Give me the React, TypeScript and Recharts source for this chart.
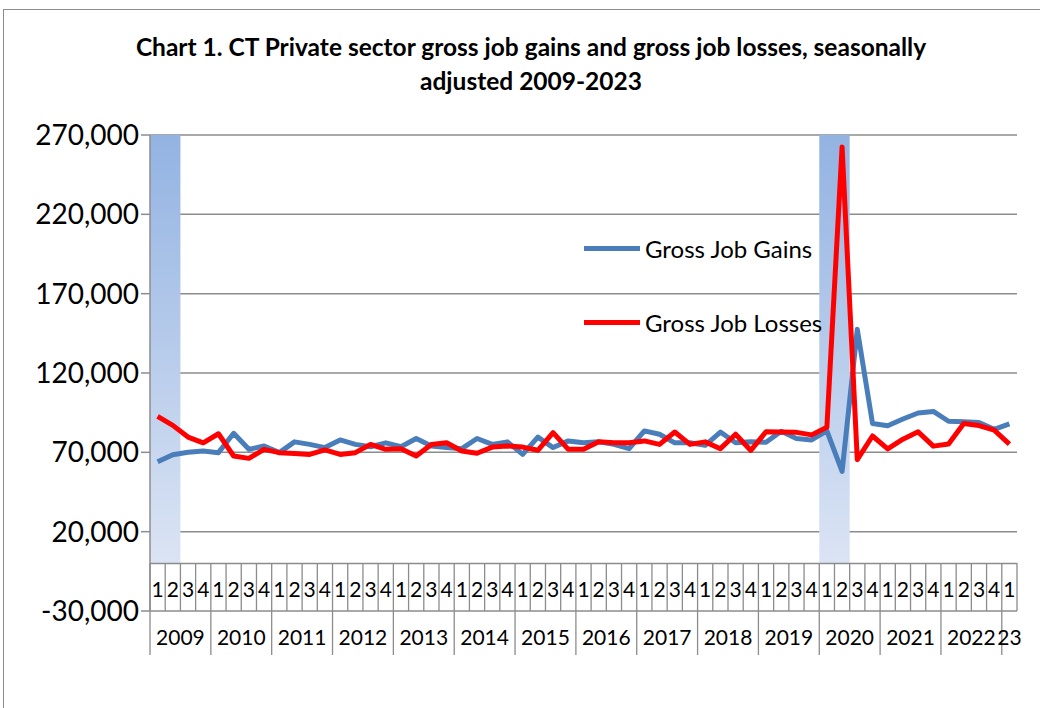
import React from "react";
import {
  CartesianGrid,
  Legend,
  Line,
  LineChart,
  ReferenceArea,
  ReferenceLine,
  XAxis,
  YAxis,
} from "recharts";

// quarters 2009Q1 .. 2023Q1
const years = [2009, 2010, 2011, 2012, 2013, 2014, 2015, 2016, 2017, 2018, 2019, 2020, 2021, 2022, 2023];
const quarterLabels = ["1", "2", "3", "4"];
const yearLabels = ["2009", "2010", "2011", "2012", "2013", "2014", "2015", "2016", "2017", "2018", "2019", "2020", "2021", "2022", "23"];
const periods = years.flatMap((yr) =>
  (yr === 2023 ? quarterLabels.slice(0, 1) : quarterLabels).map((q) => `${yr}Q${q}`)
);

const grossJobGains = [
  64000, 68500, 70000, 70800, 69800, 82000, 71900, 74000, 69800, 76600,
  75000, 73000, 77800, 75000, 73500, 76000, 73500, 78700, 74000, 73000,
  72300, 78700, 75000, 76600, 68700, 79600, 73000, 77200, 76000, 76600,
  75000, 72300, 83500, 81400, 76000, 76000, 74400, 82800, 76000, 76600,
  76300, 83300, 78700, 77800, 83500, 58000, 147500, 88200, 86800, 91000,
  94800, 95800, 89600, 89300, 88800, 84500, 87900,
];

const grossJobLosses = [
  92700, 87000, 79600, 76000, 81700, 67700, 66200, 71900, 69800, 69200,
  68700, 71500, 68700, 69800, 75000, 71900, 72300, 67700, 75000, 76000,
  70800, 69400, 73300, 74000, 73300, 71300, 82400, 71900, 71900, 76600,
  76000, 76000, 77200, 75000, 82800, 75000, 76600, 72300, 81400, 71200,
  83000, 82800, 82600, 81000, 85800, 262500, 65400, 80300, 72200, 78300,
  82900, 73900, 75300, 88200, 86900, 84000, 75200,
];

const yTicks = [-30000, 20000, 70000, 120000, 170000, 220000, 270000];
const recessions = [
  ["2009Q1", "2009Q2"],
  ["2020Q1", "2020Q2"],
];

const data = periods.map((period, i) => ({
  period,
  gains: grossJobGains[i],
  losses: grossJobLosses[i],
}));

const W = 1042;
const H = 708;
const PLOT_LEFT = 150;
const PLOT_RIGHT = 1017;
const PLOT_TOP = 135;
const PLOT_BOTTOM = 611;
const X_AXIS_H = 44;
const STEP = (PLOT_RIGHT - PLOT_LEFT) / periods.length;
const GRID = "#8c8c8c";
const FONT = "Lato, 'Open Sans', sans-serif";
const BLUE = "#4a7ebb";
const RED = "#ff0000";

function PeriodTick(props: any) {
  const { x, y, payload } = props;
  const key: string = payload.value;
  const [yr, q] = key.split("Q");
  const yearIdx = years.indexOf(Number(yr));
  const count = periods.filter((p) => p.startsWith(yr)).length;
  const isLast = key === periods[periods.length - 1];
  const rowTop = y - 48;
  return (
    <g>
      <line x1={x - STEP / 2} x2={x - STEP / 2} y1={rowTop} y2={y} stroke={GRID} strokeWidth={1.3} />
      {isLast && <line x1={x + STEP / 2} x2={x + STEP / 2} y1={rowTop} y2={y} stroke={GRID} strokeWidth={1.3} />}
      <text x={x} y={y - 23} textAnchor="middle" dominantBaseline="central" fontSize={21} fontFamily={FONT} fill="#000">
        {q}
      </text>
      {q === "1" && (
        <>
          <line x1={x - STEP / 2} x2={x - STEP / 2} y1={y} y2={y + X_AXIS_H} stroke={GRID} strokeWidth={1.3} />
          <text
            x={x - STEP / 2 + (count * STEP) / 2}
            y={y + 25}
            textAnchor="middle"
            dominantBaseline="central"
            fontSize={21}
            fontFamily={FONT}
            fill="#000"
          >
            {yearLabels[yearIdx]}
          </text>
        </>
      )}
    </g>
  );
}

function LegendBox() {
  const rows = [
    { label: "Gross Job Gains", color: BLUE },
    { label: "Gross Job Losses", color: RED },
  ];
  return (
    <div style={{ display: "flex", flexDirection: "column", gap: 44 }}>
      {rows.map((r) => (
        <div key={r.label} style={{ display: "flex", alignItems: "center", height: 30 }}>
          <div style={{ width: 56, height: 5, background: r.color, marginRight: 5 }} />
          <span style={{ fontFamily: FONT, fontSize: 24, color: "#000", whiteSpace: "nowrap" }}>{r.label}</span>
        </div>
      ))}
    </div>
  );
}

export default function App() {
  return (
    <div style={{ position: "absolute", left: 0, top: 0, width: W, height: H, background: "#fff", overflow: "hidden" }}>
      <div
        style={{
          position: "absolute",
          left: 3,
          top: 9,
          width: 1036,
          height: 720,
          borderTop: `1.5px solid ${GRID}`,
          borderLeft: `1.5px solid ${GRID}`,
        }}
      />
      <div
        style={{
          position: "absolute",
          left: 0,
          top: 30,
          width: 1062,
          textAlign: "center",
          fontFamily: FONT,
          fontWeight: 700,
          fontSize: 24.5,
          lineHeight: "34px",
          color: "#000",
        }}
      >
        Chart 1. CT Private sector gross job gains and gross job losses, seasonally
        <br />
        adjusted 2009-2023
      </div>
      <LineChart
        width={W}
        height={H}
        data={data}
        margin={{ top: PLOT_TOP, right: W - PLOT_RIGHT, bottom: H - PLOT_BOTTOM - X_AXIS_H, left: 0 }}
      >
        <defs>
          <linearGradient id="recessionFill" x1="0" y1="0" x2="0" y2="1">
            <stop offset="0%" stopColor="#93b3e2" />
            <stop offset="100%" stopColor="#dbe4f4" />
          </linearGradient>
        </defs>
        {recessions.map(([a, b]) => (
          <ReferenceArea key={a} x1={a} x2={b} y1={0} y2={270000} fill="url(#recessionFill)" fillOpacity={1} stroke="none" />
        ))}
        <CartesianGrid vertical={false} stroke={GRID} strokeWidth={1.5} />
        <ReferenceLine y={0} stroke={GRID} strokeWidth={1.5} />
        <XAxis
          dataKey="period"
          scale="band"
          interval={0}
          height={X_AXIS_H}
          tickLine={false}
          axisLine={false}
          tickSize={0}
          tickMargin={0}
          tick={<PeriodTick />}
        />
        <YAxis
          width={PLOT_LEFT}
          domain={[-30000, 270000]}
          ticks={yTicks}
          interval={0}
          allowDataOverflow
          tickFormatter={(v: number) => v.toLocaleString("en-US")}
          tick={{ fontSize: 28, fontFamily: FONT, fill: "#000" }}
          tickSize={9}
          tickMargin={2}
          tickLine={{ stroke: GRID, strokeWidth: 1.5 }}
          axisLine={{ stroke: GRID, strokeWidth: 1.5 }}
        />
        <Line
          type="linear"
          dataKey="gains"
          name="Gross Job Gains"
          stroke={BLUE}
          strokeWidth={5}
          strokeLinejoin="round"
          dot={false}
          activeDot={false}
          isAnimationActive={false}
        />
        <Line
          type="linear"
          dataKey="losses"
          name="Gross Job Losses"
          stroke={RED}
          strokeWidth={5}
          strokeLinejoin="round"
          dot={false}
          activeDot={false}
          isAnimationActive={false}
        />
        <Legend
          layout="vertical"
          align="center"
          verticalAlign="middle"
          content={<LegendBox />}
          wrapperStyle={{ left: 584, top: 233, width: 300 }}
        />
      </LineChart>
    </div>
  );
}
